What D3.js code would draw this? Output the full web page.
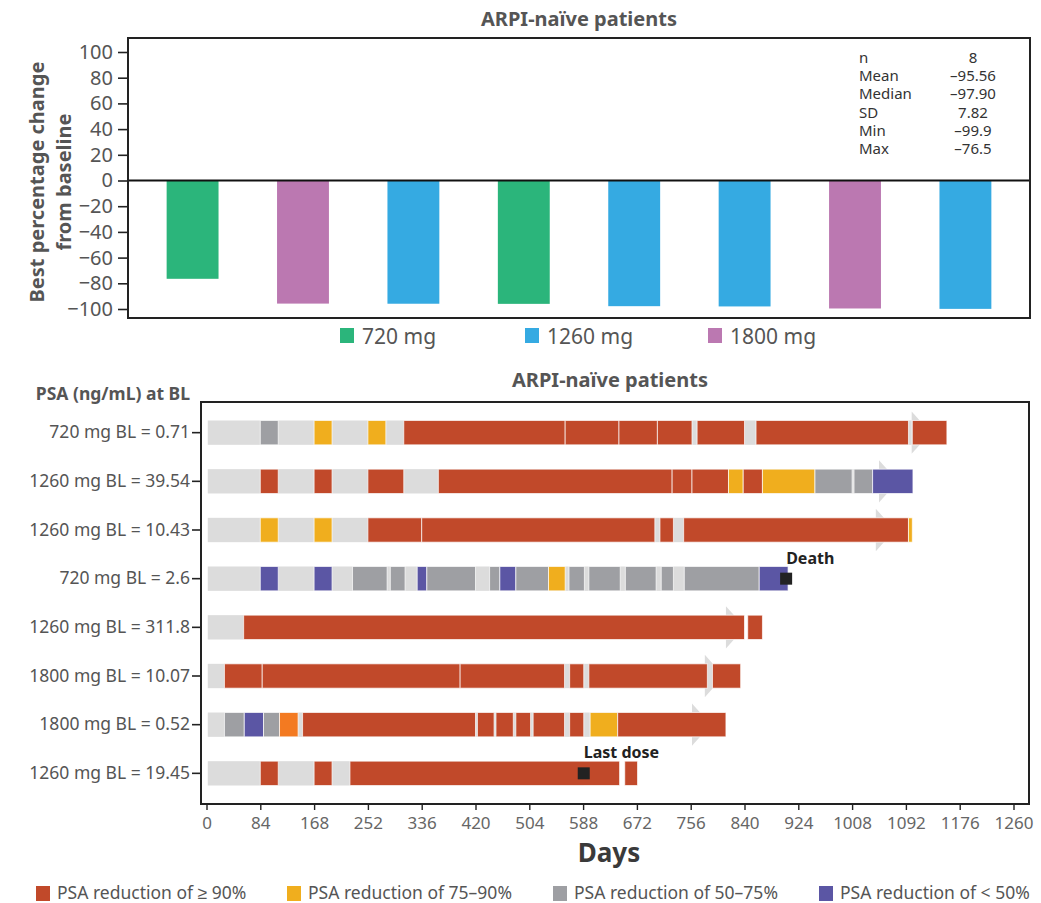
<!DOCTYPE html>
<html>
<head>
<meta charset="utf-8">
<script src="https://cdn.jsdelivr.net/npm/d3@7"></script>
<style>
  body { margin: 0; background: #fff; }
  svg { display: block; font-family: "Noto Sans", sans-serif; }
</style>
</head>
<body>
<div id="chart"></div>
<script>
// ---- top panel data (best % change from baseline, one bar per patient)
const barDoses = ["720 mg", "1800 mg", "1260 mg", "720 mg", "1260 mg", "1260 mg", "1800 mg", "1260 mg"];
const barValues = [-76.5, -95.8, -95.9, -96.0, -97.8, -98.0, -99.6, -99.9];
const yTickValues = [-100, -80, -60, -40, -20, 0, 20, 40, 60, 80, 100];
const doseLabels = ["720 mg", "1260 mg", "1800 mg"];
const statLabels = ["n", "Mean", "Median", "SD", "Min", "Max"];
const statValues = ["8", "–95.56", "–97.90", "7.82", "–99.9", "–76.5"];

// ---- bottom panel data (swimmer plot, days)
const rowLabels = [
  "720 mg BL = 0.71", "1260 mg BL = 39.54", "1260 mg BL = 10.43", "720 mg BL = 2.6",
  "1260 mg BL = 311.8", "1800 mg BL = 10.07", "1800 mg BL = 0.52", "1260 mg BL = 19.45"
];
// treatment duration (grey bar) and whether it is ongoing (arrow)
const rowDuration = [1101, 1050, 1045, 908, 811, 778, 758, 589];
const rowOngoing = [true, true, true, false, true, true, true, false];
// response segments: [start day, end day, category]
const rowSegments = [
  [[84,112,"g"],[168,196,"y"],[252,280,"y"],[308,560,"r"],[560,644,"r"],[644,704,"r"],[704,758,"r"],[766,840,"r"],[858,1096,"r"],[1102,1156,"r"]],
  [[84,112,"r"],[168,196,"r"],[252,308,"r"],[362,727,"r"],[727,758,"r"],[758,815,"r"],[815,838,"y"],[838,868,"r"],[868,950,"y"],[950,1008,"g"],[1011,1040,"g"],[1040,1103,"p"]],
  [[84,112,"y"],[168,196,"y"],[252,336,"r"],[336,700,"r"],[708,729,"r"],[745,1096,"r"],[1096,1102,"y"]],
  [[84,112,"p"],[168,196,"p"],[228,282,"g"],[287,310,"g"],[329,344,"p"],[344,420,"g"],[442,458,"g"],[458,483,"p"],[483,534,"g"],[534,560,"y"],[566,590,"g"],[597,646,"g"],[654,702,"g"],[710,729,"g"],[746,863,"g"],[863,908,"p"]],
  [[58,840,"r"],[845,868,"r"]],
  [[28,87,"r"],[87,396,"r"],[396,559,"r"],[567,589,"r"],[597,782,"r"],[790,834,"r"]],
  [[28,59,"g"],[59,89,"p"],[89,114,"g"],[114,143,"o"],[150,420,"r"],[423,449,"r"],[452,479,"r"],[483,506,"r"],[510,559,"r"],[567,589,"r"],[599,642,"y"],[642,811,"r"]],
  [[84,112,"r"],[168,196,"r"],[224,645,"r"],[653,673,"r"]]
];
const eventRows = [3, 7];
const eventDays = [905, 589];
const eventLabels = ["Death", "Last dose"];
const xTickValues = d3.range(0, 1261, 84);
const legendCodes = ["r", "y", "g", "p"];
const legendLabels = ["PSA reduction of ≥ 90%", "PSA reduction of 75–90%", "PSA reduction of 50–75%", "PSA reduction of < 50%"];

// colours
const doseColor = { "720 mg": "#2bb57b", "1260 mg": "#35aae2", "1800 mg": "#bb78b1" };
const respColor = { r: "#c1492a", y: "#f0ae1e", g: "#9e9fa3", p: "#5b56a4", o: "#f37a21" };
const bgGrey = "#dcdcdc";

const width = 1041, height = 903;
const svg = d3.select("#chart").append("svg")
  .attr("width", width).attr("height", height);

// ================= top panel =================
const topBox = { left: 128, right: 1030, top: 38, bottom: 318 };

const x1 = d3.scaleBand()
  .domain(d3.range(barValues.length))
  .range([topBox.left, topBox.right])
  .paddingInner(0.53)
  .paddingOuter(0.35);

const y1 = d3.scaleLinear().domain([-100, 100]).range([309, 52]);

svg.append("text")
  .attr("x", (topBox.left + topBox.right) / 2).attr("y", 26)
  .attr("text-anchor", "middle")
  .style("font-size", "20px").style("font-weight", "bold").attr("fill", "#555")
  .text("ARPI-naïve patients");

svg.append("g")
  .selectAll("rect")
  .data(barValues)
  .join("rect")
  .attr("x", (d, i) => x1(i))
  .attr("width", x1.bandwidth())
  .attr("y", y1(0))
  .attr("height", d => y1(d) - y1(0))
  .attr("fill", (d, i) => doseColor[barDoses[i]]);

svg.append("line")
  .attr("x1", topBox.left).attr("x2", topBox.right)
  .attr("y1", y1(0)).attr("y2", y1(0))
  .attr("stroke", "#111").attr("stroke-width", 1.8);

svg.append("rect")
  .attr("x", topBox.left).attr("y", topBox.top)
  .attr("width", topBox.right - topBox.left).attr("height", topBox.bottom - topBox.top)
  .attr("fill", "none").attr("stroke", "#222").attr("stroke-width", 2);

const yAxis1 = svg.append("g")
  .attr("transform", `translate(${topBox.left},0)`)
  .call(d3.axisLeft(y1).tickValues(yTickValues).tickSize(10).tickPadding(5));
yAxis1.select(".domain").remove();
yAxis1.selectAll(".tick line").attr("stroke", "#222").attr("stroke-width", 1.6);
yAxis1.selectAll(".tick text")
  .style("font-size", "20px").style("font-family", "'Noto Sans', sans-serif").attr("fill", "#555");

// y label, two lines
const yl = svg.append("text")
  .attr("transform", "translate(44,182) rotate(-90)")
  .attr("text-anchor", "middle")
  .style("font-size", "20px").style("font-weight", "bold").attr("fill", "#555");
yl.append("tspan").attr("x", 0).attr("dy", 0).text("Best percentage change");
yl.append("tspan").attr("x", 0).attr("dy", 27).text("from baseline");

// stats box
const stats = svg.append("g").style("font-size", "15px").attr("fill", "#333");
statLabels.forEach((lab, i) => {
  stats.append("text").attr("x", 859).attr("y", 63 + i * 18.2).text(lab);
  stats.append("text").attr("x", 973).attr("y", 63 + i * 18.2)
    .attr("text-anchor", "middle").text(statValues[i]);
});

// dose legend
const doseLegendX = [340, 525, 708];
const dl = svg.append("g").selectAll("g").data(doseLabels).join("g")
  .attr("transform", (d, i) => `translate(${doseLegendX[i]},0)`);
dl.append("rect").attr("x", 0).attr("y", 328).attr("width", 14).attr("height", 15)
  .attr("fill", d => doseColor[d]);
dl.append("text").attr("x", 22).attr("y", 344)
  .style("font-size", "21px").attr("fill", "#555").text(d => d);

// ================= bottom panel =================
const botBox = { left: 201, right: 1029, top: 402, bottom: 804 };

const x2 = d3.scaleLinear().domain([0, 1260]).range([206.5, 1013.5]);
const y2 = d3.scaleBand()
  .domain(d3.range(rowLabels.length))
  .range([botBox.top, botBox.bottom])
  .paddingInner(0.5)
  .paddingOuter(0.38);
const bh = y2.bandwidth();

svg.append("text")
  .attr("x", 610).attr("y", 387)
  .attr("text-anchor", "middle")
  .style("font-size", "20px").style("font-weight", "bold").attr("fill", "#555")
  .text("ARPI-naïve patients");

svg.append("text")
  .attr("x", 190).attr("y", 400)
  .attr("text-anchor", "end")
  .style("font-size", "17.5px").style("font-weight", "bold").attr("fill", "#555")
  .text("PSA (ng/mL) at BL");

const rows = svg.append("g").selectAll("g")
  .data(rowLabels.map((d, i) => i))
  .join("g")
  .attr("transform", i => `translate(0,${y2(i)})`);

// grey treatment bar
rows.append("rect")
  .attr("x", x2(2))
  .attr("y", 0)
  .attr("width", i => x2(rowDuration[i]) - x2(2))
  .attr("height", bh)
  .attr("fill", bgGrey);

// arrow head for ongoing treatment
rows.filter(i => rowOngoing[i]).append("path")
  .attr("d", i => {
    const bx = x2(rowDuration[i]);
    return `M${bx},${-9} L${bx + 19},${bh / 2} L${bx},${bh + 9} Z`;
  })
  .attr("fill", bgGrey);

// response segments
rows.selectAll("rect.seg")
  .data(i => rowSegments[i])
  .join("rect")
  .attr("class", "seg")
  .attr("x", d => x2(d[0]))
  .attr("width", d => x2(d[1]) - x2(d[0]))
  .attr("y", 0)
  .attr("height", bh)
  .attr("fill", d => respColor[d[2]])
  .attr("stroke", "#fff")
  .attr("stroke-opacity", 0.7)
  .attr("stroke-width", 1);

// event markers
eventRows.forEach((r, k) => {
  const cx = x2(eventDays[k]);
  const cy = y2(r) + bh / 2;
  svg.append("rect")
    .attr("x", cx - 6).attr("y", cy - 6)
    .attr("width", 12).attr("height", 12)
    .attr("fill", "#222");
  svg.append("text")
    .attr("x", cx).attr("y", cy - 15)
    .style("font-size", "16px").style("font-weight", "bold").attr("fill", "#222")
    .text(eventLabels[k]);
});

svg.append("rect")
  .attr("x", botBox.left).attr("y", botBox.top)
  .attr("width", botBox.right - botBox.left).attr("height", botBox.bottom - botBox.top)
  .attr("fill", "none").attr("stroke", "#222").attr("stroke-width", 2);

const yAxis2 = svg.append("g")
  .attr("transform", `translate(${botBox.left},0)`)
  .call(d3.axisLeft(y2).tickFormat(i => rowLabels[i]).tickSize(9).tickPadding(2));
yAxis2.select(".domain").remove();
yAxis2.selectAll(".tick line").attr("stroke", "#222").attr("stroke-width", 1.6);
yAxis2.selectAll(".tick text")
  .style("font-size", "17.5px").style("font-family", "'Noto Sans', sans-serif").attr("fill", "#555");

const xAxis2 = svg.append("g")
  .attr("transform", `translate(0,${botBox.bottom})`)
  .call(d3.axisBottom(x2).tickValues(xTickValues).tickFormat(d3.format("d")).tickSize(6).tickPadding(7));
xAxis2.select(".domain").remove();
xAxis2.selectAll(".tick line").attr("stroke", "#222").attr("stroke-width", 1.4);
xAxis2.selectAll(".tick text")
  .style("font-size", "17px").style("font-family", "'Noto Sans', sans-serif").attr("fill", "#666");

svg.append("text")
  .attr("x", 609).attr("y", 862)
  .attr("text-anchor", "middle")
  .style("font-size", "26px").style("font-weight", "bold").attr("fill", "#3a3a3a")
  .text("Days");

// response legend
const legendX = [36, 287, 553, 819];
const rl = svg.append("g").selectAll("g").data(legendCodes).join("g")
  .attr("transform", (d, i) => `translate(${legendX[i]},0)`);
rl.append("rect").attr("x", 0).attr("y", 886).attr("width", 14).attr("height", 15)
  .attr("fill", d => respColor[d]);
rl.append("text").attr("x", 21).attr("y", 899)
  .style("font-size", "17.5px").attr("fill", "#555")
  .text((d, i) => legendLabels[i]);
</script>
</body>
</html>
